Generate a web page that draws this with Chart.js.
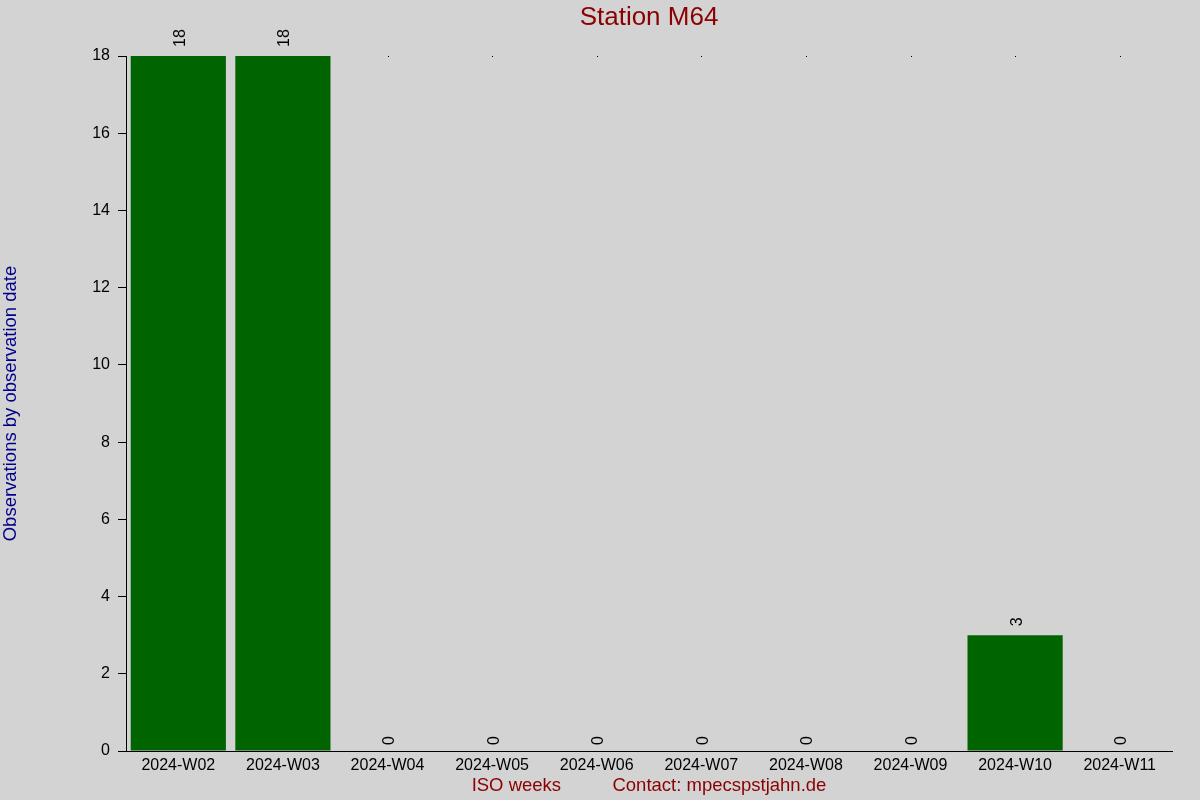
<!DOCTYPE html>
<html>
<head>
<meta charset="utf-8">
<script src="https://cdn.jsdelivr.net/npm/chart.js@4/dist/chart.umd.min.js"></script>
<style>
html,body{margin:0;padding:0;background:#d3d3d3;overflow:hidden;}
canvas{display:block;}
</style>
</head>
<body>
<canvas id="c" width="1200" height="800"></canvas>
<script>
const categories = ["2024-W02","2024-W03","2024-W04","2024-W05","2024-W06","2024-W07","2024-W08","2024-W09","2024-W10","2024-W11"];
const observations = [18, 18, 0, 0, 0, 0, 0, 0, 3, 0];
const yTicks = [0, 2, 4, 6, 8, 10, 12, 14, 16, 18];
const chartTitle = "Station M64";
const yTitle = "Observations by observation date";
const xTitle = "ISO weeks          Contact: mpecspstjahn.de";

const FONT = "'Liberation Sans', Arial, sans-serif";

const decor = {
  id: 'decor',
  beforeDraw(chart) {
    const ctx = chart.ctx;
    ctx.save();
    ctx.fillStyle = '#d3d3d3';
    ctx.fillRect(0, 0, chart.width, chart.height);
    ctx.restore();
  },
  beforeDatasetsDraw(chart) {
    const ctx = chart.ctx;
    const area = chart.chartArea;
    const xs = chart.scales.x;
    ctx.save();
    ctx.fillStyle = '#000';
    categories.forEach((c, i) => {
      const px = Math.round(xs.getPixelForValue(i));
      ctx.fillRect(px, area.top, 1, 1);
    });
    ctx.restore();
  },
  afterDatasetsDraw(chart) {
    const ctx = chart.ctx;
    const area = chart.chartArea;
    ctx.save();
    const meta = chart.getDatasetMeta(0);
    ctx.font = '16px ' + FONT;
    ctx.fillStyle = '#000';
    ctx.textAlign = 'left';
    ctx.textBaseline = 'middle';
    meta.data.forEach((bar, i) => {
      const v = observations[i];
      const gap = v > 0 ? 9 : 6;
      ctx.save();
      ctx.translate(bar.x + 2, bar.y - gap);
      ctx.rotate(-Math.PI / 2);
      ctx.fillText(String(v), 0, 0);
      ctx.restore();
    });
    ctx.strokeStyle = '#000';
    ctx.lineWidth = 1;
    ctx.beginPath();
    ctx.moveTo(area.left - 8, Math.round(area.bottom) + 0.5);
    ctx.lineTo(area.right + 1, Math.round(area.bottom) + 0.5);
    ctx.stroke();
    ctx.restore();
  }
};

new Chart(document.getElementById('c'), {
  type: 'bar',
  data: {
    labels: categories,
    datasets: [{
      data: observations,
      backgroundColor: '#006400',
      borderWidth: 0,
      barPercentage: 0.91,
      categoryPercentage: 1.0
    }]
  },
  options: {
    responsive: false,
    animation: false,
    devicePixelRatio: 1,
    layout: { padding: { left: 0, right: 28, top: 0, bottom: 0 } },
    plugins: {
      legend: { display: false },
      tooltip: { enabled: false },
      title: {
        display: true,
        text: chartTitle,
        color: '#8b0000',
        fullSize: false,
        font: { family: FONT, size: 26, weight: 'normal', lineHeight: 1.2 },
        padding: { top: 2, bottom: 22.8 }
      }
    },
    scales: {
      x: {
        afterFit(s) { s.height = 49; },
        grid: { display: false, drawTicks: false },
        border: { display: true, color: '#000', width: 1 },
        ticks: { color: '#000', font: { family: FONT, size: 16 }, padding: 5, maxRotation: 0, autoSkip: false },
        title: {
          display: true,
          text: xTitle,
          color: '#8b0000',
          font: { family: FONT, size: 18.5, lineHeight: 1.2 },
          padding: { top: 0, bottom: 3 }
        }
      },
      y: {
        min: 0,
        max: 18,
        afterFit(s) { s.width = 126; },
        afterBuildTicks(s) { s.ticks = yTicks.map(v => ({ value: v })); },
        grid: { drawOnChartArea: false, drawTicks: true, tickLength: 8, color: '#000' },
        border: { display: true, color: '#000', width: 1 },
        ticks: { color: '#000', font: { family: FONT, size: 16 }, padding: 8 },
        title: {
          display: true,
          text: yTitle,
          color: '#00008b',
          font: { family: FONT, size: 18.5, lineHeight: 1.2 },
          padding: { top: 0, bottom: 0 }
        }
      }
    }
  },
  plugins: [decor]
});
</script>
</body>
</html>
